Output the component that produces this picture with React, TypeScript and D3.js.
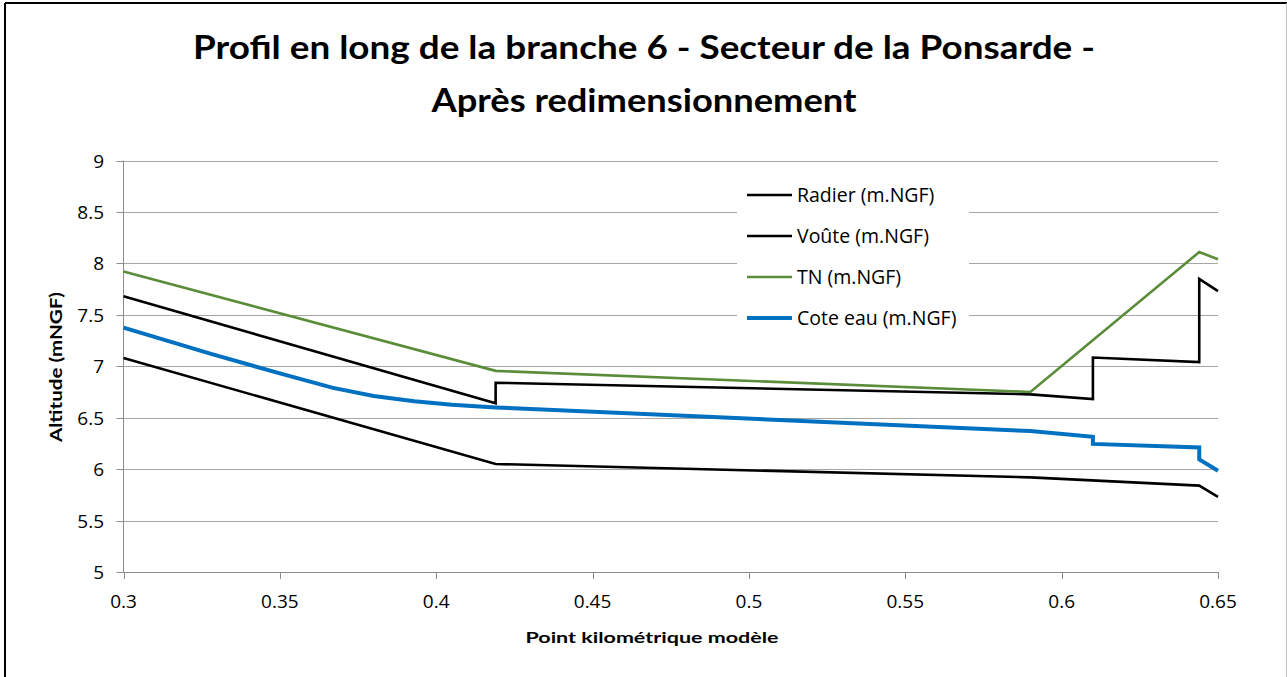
import React from "react";
import * as d3 from "d3";

const radierX = [0.3, 0.419, 0.59, 0.644, 0.65];
const radierY = [7.08, 6.05, 5.92, 5.84, 5.73];

const vouteX = [0.3, 0.419, 0.419, 0.59, 0.61, 0.61, 0.644, 0.644, 0.65];
const vouteY = [7.68, 6.64, 6.84, 6.727, 6.68, 7.085, 7.04, 7.85, 7.73];

const tnX = [0.3, 0.419, 0.59, 0.644, 0.65];
const tnY = [7.92, 6.955, 6.75, 8.11, 8.04];

const eauX = [0.3, 0.328, 0.35, 0.367, 0.38, 0.393, 0.405, 0.419, 0.59, 0.61, 0.61, 0.644, 0.644, 0.65];
const eauY = [7.375, 7.12, 6.93, 6.79, 6.71, 6.66, 6.625, 6.6, 6.37, 6.315, 6.245, 6.21, 6.095, 5.985];

const xTicks = [0.3, 0.35, 0.4, 0.45, 0.5, 0.55, 0.6, 0.65];
const yTicks = [5, 5.5, 6, 6.5, 7, 7.5, 8, 8.5, 9];

const seriesNames = ["Radier (m.NGF)", "Voûte (m.NGF)", "TN (m.NGF)", "Cote eau (m.NGF)"];
const seriesColors = ["#000000", "#000000", "#5B8C3A", "#0070C0"];
const seriesWidths = [2.6, 2.6, 2.6, 4];

const FONT = "Lato, 'Open Sans', 'DejaVu Sans', sans-serif";
const FONT2 = "'Open Sans', Lato, 'DejaVu Sans', sans-serif";

export default function App() {
  const W = 1287, H = 677;
  const x = d3.scaleLinear().domain([0.3, 0.65]).range([123.5, 1218]);
  const y = d3.scaleLinear().domain([5, 9]).range([572, 160.5]);
  const line = d3.line<[number, number]>().x(d => x(d[0])).y(d => y(d[1]));

  const series: [number, number][][] = [
    radierX.map((v, i) => [v, radierY[i]] as [number, number]),
    vouteX.map((v, i) => [v, vouteY[i]] as [number, number]),
    tnX.map((v, i) => [v, tnY[i]] as [number, number]),
    eauX.map((v, i) => [v, eauY[i]] as [number, number]),
  ];

  const legX = 737, legY = 176, legW = 232, legH = 160;

  return (
    <svg width={W} height={H} style={{ position: "absolute", left: 0, top: 0, background: "#fff" }}
      fontFamily={FONT}>
      <rect x={0} y={0} width={W} height={H} fill="#fff" />
      {/* frame */}
      <line x1={5} y1={3} x2={W} y2={3} stroke="#000" strokeWidth={2} />
      <line x1={5} y1={3} x2={5} y2={H} stroke="#000" strokeWidth={2} />
      <line x1={1286.5} y1={3} x2={1286.5} y2={H} stroke="#bdbdbd" strokeWidth={1} />

      {/* title */}
      <text x={644} y={59} textAnchor="middle" fontSize={32} fontWeight="bold" fill="#000"
        textLength={902} lengthAdjust="spacingAndGlyphs">
        Profil en long de la branche 6 - Secteur de la Ponsarde -
      </text>
      <text x={644} y={112} textAnchor="middle" fontSize={32} fontWeight="bold" fill="#000"
        textLength={425} lengthAdjust="spacingAndGlyphs">
        Après redimensionnement
      </text>

      {/* gridlines */}
      {yTicks.filter(t => t !== 5).map(t => (
        <line key={"g" + t} x1={x(0.3)} x2={x(0.65)} y1={Math.round(y(t)) + 0.5} y2={Math.round(y(t)) + 0.5}
          stroke="#a6a6a6" strokeWidth={1} />
      ))}

      {/* axes */}
      <line x1={x(0.3)} x2={x(0.3)} y1={y(9)} y2={y(5) + 0.5} stroke="#8c8c8c" strokeWidth={1} />
      <line x1={x(0.3)} x2={x(0.65)} y1={Math.round(y(5)) + 0.5} y2={Math.round(y(5)) + 0.5} stroke="#8c8c8c" strokeWidth={1} />
      {yTicks.map(t => (
        <g key={"y" + t}>
          <line x1={x(0.3) - 7} x2={x(0.3)} y1={Math.round(y(t)) + 0.5} y2={Math.round(y(t)) + 0.5} stroke="#8c8c8c" />
          <text x={104} y={y(t) + 7} textAnchor="end" fontSize={19} fill="#000" fontFamily={FONT2}>{String(t)}</text>
        </g>
      ))}
      {xTicks.map(t => (
        <g key={"x" + t}>
          <line x1={Math.round(x(t)) + 0.5} x2={Math.round(x(t)) + 0.5} y1={y(5)} y2={y(5) + 7} stroke="#8c8c8c" />
          <text x={x(t)} y={608} textAnchor="middle" fontSize={19} fill="#000" fontFamily={FONT2}>{String(t)}</text>
        </g>
      ))}

      {/* axis titles */}
      <text x={652} y={643} textAnchor="middle" fontSize={16} fontWeight="bold" fill="#000"
        textLength={253} lengthAdjust="spacingAndGlyphs">Point kilométrique modèle</text>
      <text transform="translate(62,367) rotate(-90)" textAnchor="middle" fontSize={17} fontWeight="bold" fill="#000"
        textLength={150} lengthAdjust="spacingAndGlyphs">Altitude (mNGF)</text>

      {/* series */}
      {series.map((s, i) => (
        <path key={"s" + i} d={line(s) || ""} fill="none" stroke={seriesColors[i]} strokeWidth={seriesWidths[i]}
          strokeLinejoin="miter" strokeLinecap="butt" />
      ))}

      {/* legend */}
      <rect x={legX} y={legY} width={legW} height={legH} fill="#fff" />
      {seriesNames.map((n, i) => {
        const cy = 195 + i * 41;
        return (
          <g key={"l" + i}>
            <line x1={747} x2={792} y1={cy} y2={cy} stroke={seriesColors[i]} strokeWidth={seriesWidths[i]} />
            <text x={797} y={cy + 7} fontSize={19.5} fill="#000" fontFamily={FONT2}>{n}</text>
          </g>
        );
      })}
    </svg>
  );
}
